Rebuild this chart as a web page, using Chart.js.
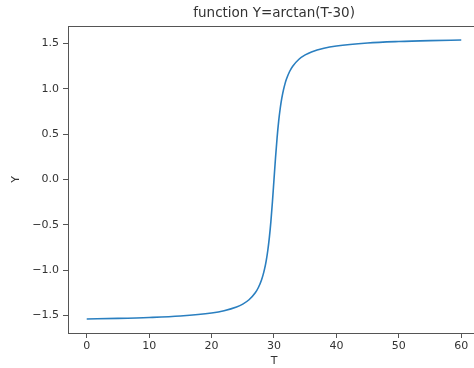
<!DOCTYPE html>
<html>
<head>
<meta charset="utf-8">
<script src="https://cdn.jsdelivr.net/npm/chart.js@4/dist/chart.umd.min.js"></script>
<style>
html,body{margin:0;padding:0;overflow:hidden;background:#fff;}
#c{display:block;}
</style>
</head>
<body>
<canvas id="c" width="474" height="368"></canvas>
<script>
// Data
const tValues = [0, 5, 10, 15, 20, 22, 24, 25, 26, 27, 27.5, 28, 28.25, 28.5, 28.75, 29, 29.25, 29.5, 29.75, 30,
                 30.25, 30.5, 30.75, 31, 31.25, 31.5, 31.75, 32, 32.5, 33, 34, 35, 36, 38, 40, 45, 50, 55, 60];
const yValues = [-1.5375, -1.5308, -1.5208, -1.5042, -1.4711, -1.4464, -1.4056, -1.3734, -1.3258, -1.2490, -1.1903,
                 -1.1071, -1.0517, -0.9828, -0.8961, -0.7854, -0.6435, -0.4636, -0.2450, 0.0,
                 0.2450, 0.4636, 0.6435, 0.7854, 0.8961, 0.9828, 1.0517, 1.1071, 1.1903, 1.2490, 1.3258, 1.3734,
                 1.4056, 1.4464, 1.4711, 1.5042, 1.5208, 1.5308, 1.5375];
const xTicks = [0, 10, 20, 30, 40, 50, 60];
const yTicks = [-1.5, -1.0, -0.5, 0.0, 0.5, 1.0, 1.5];
const chartTitle = 'function Y=arctan(T-30)';
const xLabel = 'T';
const yLabel = 'Y';

const points = tValues.map((t, i) => ({x: t, y: yValues[i]}));
const textColor = '#333333';
const axisColor = '#555555';
const fam = '"DejaVu Sans", sans-serif';
const fullRight = 480.2; // axes box extends past the cropped right edge

const deco = {
  id: 'deco',
  afterDatasetsDraw(chart) {
    const {ctx, chartArea: a} = chart;
    ctx.save();
    ctx.fillStyle = axisColor;
    ctx.fillRect(Math.round(a.left), Math.round(a.top), chart.width - Math.round(a.left) + 20, 1);
    ctx.fillRect(Math.round(a.left), Math.round(a.bottom), chart.width - Math.round(a.left) + 20, 1);
    ctx.fillRect(Math.round(a.left), Math.round(a.top), 1, Math.round(a.bottom - a.top) + 1);
    // title centred over the full axes box
    ctx.fillStyle = textColor;
    ctx.font = '13.5px "DejaVu Sans", sans-serif';
    ctx.textAlign = 'center';
    ctx.textBaseline = 'middle';
    ctx.fillText(chartTitle, (a.left + fullRight) / 2, 13.5);
    // x axis label centred over the full axes box
    ctx.font = '11px "DejaVu Sans", sans-serif';
    ctx.fillText(xLabel, (a.left + fullRight) / 2, 361);
    ctx.restore();
  }
};

new Chart(document.getElementById('c'), {
  type: 'line',
  data: {datasets: [{data: points, borderColor: '#2a7fc0', borderWidth: 1.6, pointRadius: 0, fill: false, cubicInterpolationMode: 'monotone'}]},
  options: {
    responsive: false, animation: false, layout: {padding: {top: 26}},
    plugins: {legend: {display: false}, tooltip: {enabled: false}, title: {display: false}},
    scales: {
      x: {type: 'linear', min: -3, max: 62.04,
        afterFit(s) { s.height = 35; },
        afterBuildTicks(s) { s.ticks = xTicks.map(v => ({value: v})); },
        grid: {display: true, drawOnChartArea: false, drawTicks: true, tickLength: 5, color: axisColor, tickColor: axisColor},
        border: {display: false},
        ticks: {color: textColor, font: {family: fam, size: 11}, padding: 2, maxRotation: 0, autoSkip: false, callback: v => String(v)},
        title: {display: false}},
      y: {type: 'linear', min: -1.692, max: 1.692,
        afterFit(s) { s.width = 68; },
        afterBuildTicks(s) { s.ticks = yTicks.map(v => ({value: v})); },
        grid: {display: true, drawOnChartArea: false, drawTicks: true, tickLength: 5, color: axisColor, tickColor: axisColor},
        border: {display: false},
        ticks: {color: textColor, font: {family: fam, size: 11}, padding: 4, autoSkip: false, callback: v => v.toFixed(1).replace('-', '\u2212')},
        title: {display: true, text: yLabel, color: textColor, font: {family: fam, size: 11, lineHeight: 1.2}, padding: {top: 10, bottom: 0}}}
    }
  },
  plugins: [deco]
});
</script>
</body>
</html>
